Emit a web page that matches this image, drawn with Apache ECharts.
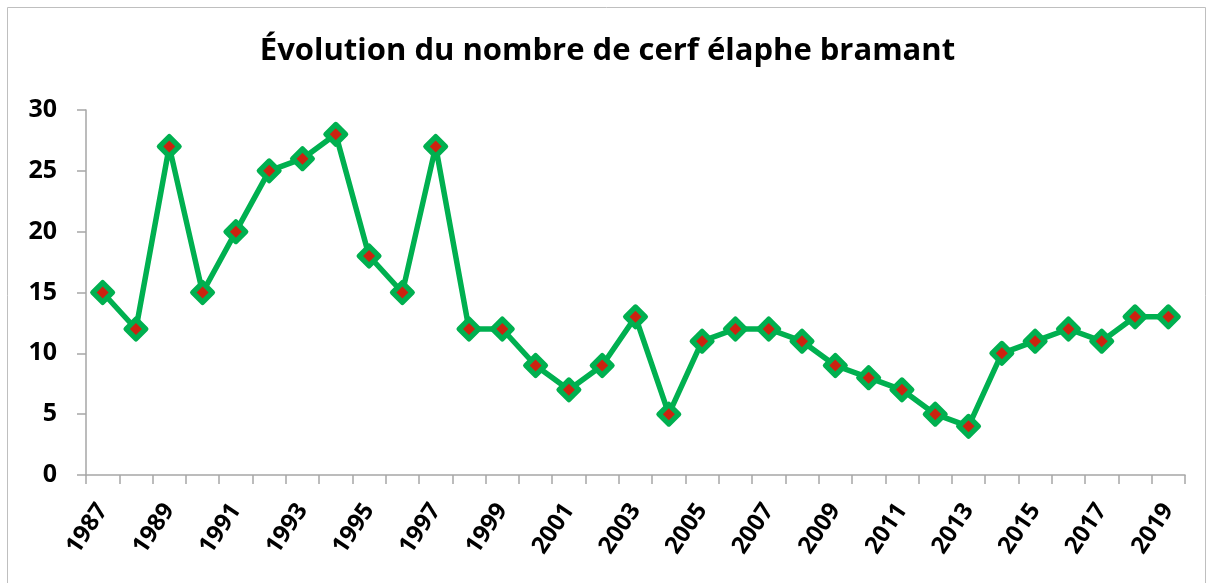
<!DOCTYPE html>
<html>
<head>
<meta charset="utf-8">
<script src="https://cdn.jsdelivr.net/npm/echarts@6/dist/echarts.min.js"></script>
<style>html,body{margin:0;padding:0;background:#fff;}#c{width:1215px;height:583px;}</style>
</head>
<body>
<div id="c"></div>
<script>
const titleText = "Évolution du nombre de cerf élaphe bramant";
const years = ["1987","1988","1989","1990","1991","1992","1993","1994","1995","1996","1997","1998","1999","2000","2001","2002","2003","2004","2005","2006","2007","2008","2009","2010","2011","2012","2013","2014","2015","2016","2017","2018","2019"];
const counts = [15,12,27,15,20,25,26,28,18,15,27,12,12,9,7,9,13,5,11,12,12,11,9,8,7,5,4,10,11,12,11,13,13];
const yTicks = {min:0, max:30, interval:5};

const chart = echarts.init(document.getElementById('c'), null, {renderer:'canvas'});
const font = '"Open Sans", sans-serif';
chart.setOption({
  animation:false,
  backgroundColor:'#fff',
  graphic:[{type:'rect', shape:{x:7.5,y:7.5,width:1198,height:620}, style:{fill:'none', stroke:'#bfbfbf', lineWidth:1}, silent:true}],
  title:{text:titleText, left:'center', top:31, textStyle:{fontFamily:font, fontWeight:'bold', fontSize:31, color:'#000'}},
  grid:{left:86, right:30, top:110, bottom:108, containLabel:false},
  xAxis:{type:'category', data:years, boundaryGap:true,
    axisLine:{lineStyle:{color:'#a6a6a6', width:1.5}},
    axisTick:{show:true, interval:0, length:9, lineStyle:{color:'#a6a6a6', width:1.5}},
    axisLabel:{interval:1, rotate:56, margin:31, fontFamily:font, fontWeight:'bold', fontSize:24, color:'#000'},
    splitLine:{show:false}},
  yAxis:{type:'value', min:yTicks.min, max:yTicks.max, interval:yTicks.interval,
    axisLine:{show:true, lineStyle:{color:'#a6a6a6', width:1.5}},
    axisTick:{show:true, length:9, lineStyle:{color:'#a6a6a6', width:1.5}},
    axisLabel:{margin:29, fontFamily:font, fontWeight:'bold', fontSize:25, color:'#000'},
    splitLine:{show:false}},
  series:[
    {type:'line', data:counts, symbol:'diamond', symbolSize:20, showAllSymbol:true,
     lineStyle:{color:'#00b050', width:5.5}, itemStyle:{color:'#00b050', borderColor:'#00b050', borderWidth:5, borderJoin:'round'}, z:2},
    {type:'scatter', data:counts, symbol:'diamond', symbolSize:12, itemStyle:{color:'#ff0000'}, z:3}
  ]
});
</script>
</body>
</html>
